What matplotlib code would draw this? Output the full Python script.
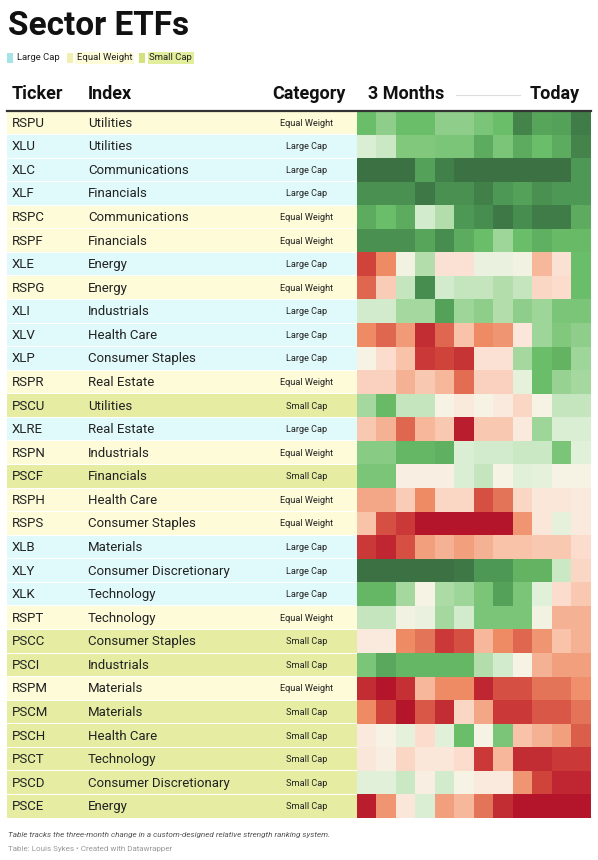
import numpy as np
import matplotlib
matplotlib.use("Agg")
import matplotlib.pyplot as plt
from matplotlib.colors import LinearSegmentedColormap
from matplotlib.patches import Rectangle

plt.rcParams['font.family'] = ['Roboto', 'DejaVu Sans']

# data
tickers = ["RSPU", "XLU", "XLC", "XLF", "RSPC", "RSPF", "XLE", "RSPG", "XLI", "XLV",
           "XLP", "RSPR", "PSCU", "XLRE", "RSPN", "PSCF", "RSPH", "RSPS", "XLB", "XLY",
           "XLK", "RSPT", "PSCC", "PSCI", "RSPM", "PSCM", "PSCH", "PSCT", "PSCD", "PSCE"]
indexes = ["Utilities", "Utilities", "Communications", "Financials", "Communications",
           "Financials", "Energy", "Energy", "Industrials", "Health Care",
           "Consumer Staples", "Real Estate", "Utilities", "Real Estate", "Industrials",
           "Financials", "Health Care", "Consumer Staples", "Materials",
           "Consumer Discretionary", "Technology", "Technology", "Consumer Staples",
           "Industrials", "Materials", "Materials", "Health Care", "Technology",
           "Consumer Discretionary", "Energy"]
categories = ["Equal Weight", "Large Cap", "Large Cap", "Large Cap", "Equal Weight",
              "Equal Weight", "Large Cap", "Equal Weight", "Large Cap", "Large Cap",
              "Large Cap", "Equal Weight", "Small Cap", "Large Cap", "Equal Weight",
              "Small Cap", "Equal Weight", "Equal Weight", "Large Cap", "Large Cap",
              "Large Cap", "Equal Weight", "Small Cap", "Small Cap", "Equal Weight",
              "Small Cap", "Small Cap", "Small Cap", "Small Cap", "Small Cap"]

# relative strength change, 3 months ago -> today (green = strong, red = weak)
rs = np.array([
    [2, 1.5, 2, 2, 1.5, 1.5, 1.8, 2, 3.5, 2.7, 2.8, 3.7],
    [0.5, 0.7, 1.7, 1.7, 1.8, 1.8, 2.5, 1.8, 2.5, 2, 2.5, 3.5],
    [4, 4, 4, 2.8, 3.6, 4, 4, 4, 4, 4, 4, 3],
    [3.2, 3.2, 3.2, 3.8, 3.2, 3.2, 3.6, 3, 2.8, 3.2, 3, 3],
    [2.5, 2, 2.5, 0.6, 1, 3, 3.3, 3.8, 3.3, 3.7, 3.7, 2.5],
    [3.2, 3.2, 3.2, 2.7, 3.3, 2.5, 2, 1.3, 2, 2.4, 2.1, 2.1],
    [-3, -2, 0.1, 1, -0.4, -0.4, 0.2, 0.2, 0.1, -1.2, -0.4, 2],
    [-2.5, -0.8, 0.8, 3.3, 0.6, 0.8, 0.8, 1, 0.8, -0.6, -0.5, 2],
    [0.6, 0.6, 1.2, 1.2, 2.8, 1.3, 1.5, 1, 1.5, 1.3, 1.8, 1.8],
    [-2, -2.5, -1.7, -3.5, -2.5, -1, -2, -1.8, -0.3, 1.3, 1.7, 1.5],
    [0, -0.5, -1, -3.2, -3, -3.3, -0.4, -0.4, 1.2, 2, 2.3, 1.3],
    [-0.7, -0.7, -1.3, -0.9, -1.2, -2.4, -0.7, -0.7, 0.3, 2, 1.4, 1.2],
    [1.2, 2.1, 0.8, 0.8, 0, -0.2, 0, -0.2, -0.6, 0, 0.8, 0.8],
    [-0.9, -1.3, -2.5, -1.2, -0.9, -3.8, -0.9, -0.9, -0.2, 1.3, 0.5, 0.5],
    [1.6, 1.6, 2.2, 2.2, 2.4, 0.5, 0.6, 0.6, 0.7, 0.7, 1.8, 0.4],
    [1.8, 1.8, -0.1, -0.1, -0.1, 0.5, 0.8, 0, 0.4, 0.3, 0, 0],
    [-1.5, -1.5, -0.8, -2, -0.6, -0.6, -2.8, -2.3, -0.6, -0.3, -0.3, -0.2],
    [-1, -2.8, -3.2, -4, -4, -4, -4, -4, -1.8, -0.3, 0.3, -0.2],
    [-3.2, -3.6, -2.8, -1.6, -1.3, -1.6, -1.3, -1, -1, -0.9, -0.9, -0.5],
    [4, 4, 4, 4, 4, 3.8, 3, 3, 2.3, 2.3, 0.7, -0.6],
    [2.2, 2.2, 1.2, 0, 1.1, 1.3, 1.8, 2.8, 1.8, 0.4, -0.5, -0.9],
    [0.8, 0.8, 0.1, 0.2, 1.2, 0.6, 1.8, 1.8, 1.8, 0.1, -1.3, -1.3],
    [-0.2, -0.2, -2, -2.3, -3.2, -2.8, -1.2, -2, -2.5, -1.8, -1, -1.3],
    [1.8, 2.6, 2.2, 2.2, 2.2, 2.2, 1, 0.6, 0, -1.3, -1.6, -1.6],
    [-3.5, -4, -3.4, -1.2, -2, -2, -3.6, -2.8, -2.8, -2.3, -2.3, -1.9],
    [-2, -3, -4, -2.7, -3.5, -0.6, -1.5, -3.2, -3.2, -2.7, -2.7, -2.3],
    [-0.2, 0, 0.3, -0.5, 0.4, 2, 0, 1.8, -1, -1.3, -1.6, -2.6],
    [-0.3, -0.1, -0.6, -0.3, -0.3, -0.5, -3.2, -1.2, -3.5, -3.5, -3.2, -3.2],
    [0.4, 0.4, 0.7, -0.1, 0.6, 0, -0.2, -0.2, -1.8, -3, -3.6, -3.6],
    [-3.8, -1.8, -0.3, 0.5, -1.6, -1.2, -2.3, -3.5, -4, -4, -4, -4],
])

cat_colors = {"Large Cap": "#e0fafb", "Equal Weight": "#fefbd8", "Small Cap": "#e6eda3"}
legend_sq = {"Large Cap": "#a6e3e6", "Equal Weight": "#f2efb0", "Small Cap": "#d3e27a"}

stops = [(-4, "#b5152b"), (-3, "#d0433b"), (-2, "#ee8a64"), (-1, "#f9c3aa"),
         (-0.3, "#fce6da"), (0, "#f7f4e6"), (0.5, "#dcefd6"), (1, "#b5dfae"),
         (2, "#6cbf6a"), (3, "#4f9a56"), (4, "#3b7143")]
cmap = LinearSegmentedColormap.from_list(
    "rs", [((v + 4) / 8, c) for v, c in stops])

W, H = 598, 860
fig = plt.figure(figsize=(W / 100, H / 100), dpi=100)
ax = fig.add_axes([0, 0, 1, 1])
ax.set_xlim(0, W)
ax.set_ylim(H, 0)
ax.axis("off")

# title + legend
ax.text(8, 26, "Sector ETFs", fontsize=24, fontweight="bold", va="center", color="#111")
lx = 7
for name in ["Large Cap", "Equal Weight", "Small Cap"]:
    t = ax.text(lx + 10, 58, name, fontsize=6.8, va="center", color="#222")
    if name != "Large Cap":
        bg = cat_colors[name] if name == "Equal Weight" else "#e3ee9c"
        t.set_bbox(dict(facecolor=bg, edgecolor="none", pad=1.2))
    ax.add_patch(Rectangle((lx, 53), 6, 10, color=legend_sq[name], lw=0))
    fig.canvas.draw()
    bb = t.get_window_extent()
    lx = bb.x1 + 7

# header
hy = 94
ax.text(12, hy, "Ticker", fontsize=13, fontweight="bold", va="center", color="#111")
ax.text(88, hy, "Index", fontsize=13, fontweight="bold", va="center", color="#111")
ax.text(346, hy, "Category", fontsize=13, fontweight="bold", va="center", ha="right", color="#111")
ax.text(368, hy, "3 Months", fontsize=13, fontweight="bold", va="center", color="#111")
ax.text(580, hy, "Today", fontsize=13, fontweight="bold", va="center", ha="right", color="#111")
ax.plot([456, 520], [hy + 1, hy + 1], color="#dddddd", lw=0.8)

# rows
top, bottom = 111.5, 818.5
n = len(tickers)
rh = (bottom - top) / n
x0, x1 = 7, 357
hx0, hx1 = 357, 591
for i in range(n):
    y = top + i * rh
    ax.add_patch(Rectangle((x0, y), x1 - x0, rh - 1, color=cat_colors[categories[i]], lw=0))
    yc = y + rh / 2
    ax.text(12, yc, tickers[i], fontsize=9.5, va="center", color="#222")
    ax.text(88, yc, indexes[i], fontsize=9.5, va="center", color="#222")
    ax.text(307, yc, categories[i], fontsize=6.6, va="center", ha="center", color="#222")

ax.imshow(rs, cmap=cmap, vmin=-4, vmax=4, aspect="auto", interpolation="nearest",
          extent=[hx0, hx1, bottom, top])
ax.set_xlim(0, W)
ax.set_ylim(H, 0)
ax.plot([x0, hx1], [top - 0.5, top - 0.5], color="#333333", lw=1.6)

# footer
ax.text(8, 835, "Table tracks the three-month change in a custom-designed relative strength ranking system.",
        fontsize=5.9, style="italic", va="center", color="#555")
ax.text(8, 849, "Table: Louis Sykes \u2022 Created with Datawrapper",
        fontsize=5.8, va="center", color="#999")

fig.savefig("out.png", dpi=100)
